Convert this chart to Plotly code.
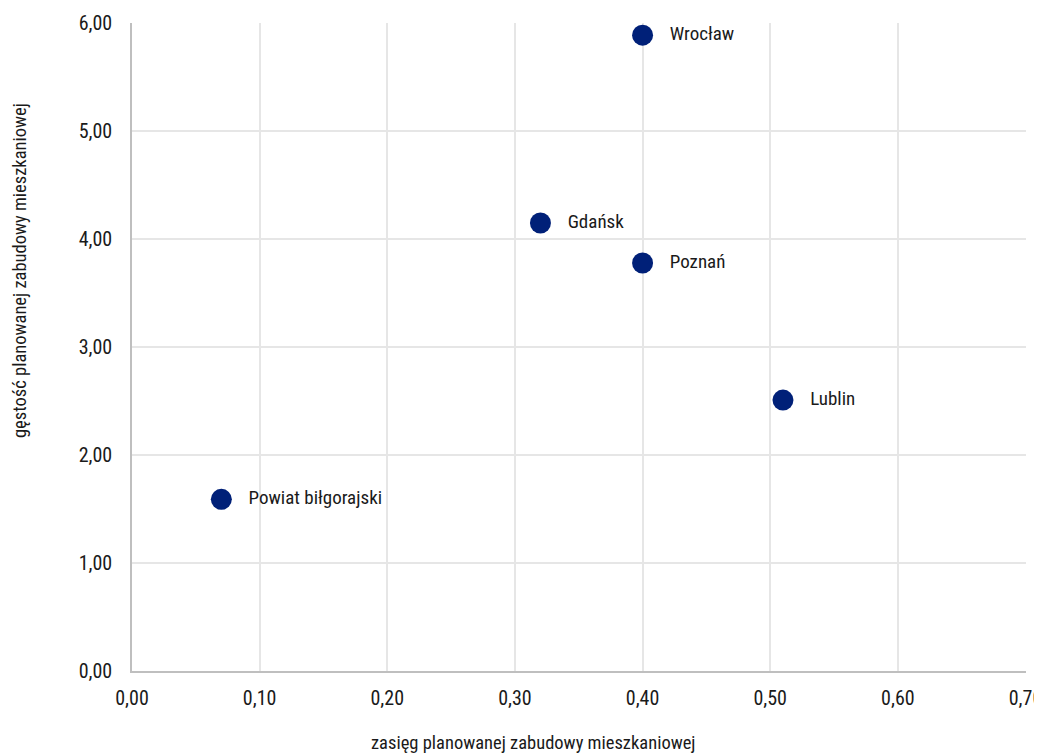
import plotly.graph_objects as go

names = ["Wrocław", "Gdańsk", "Poznań", "Lublin", "Powiat biłgorajski"]
x_vals = [0.40, 0.32, 0.40, 0.51, 0.07]
y_vals = [5.89, 4.15, 3.78, 2.51, 1.59]

x_ticks = [0.0, 0.1, 0.2, 0.3, 0.4, 0.5, 0.6, 0.7]
y_ticks = [0, 1, 2, 3, 4, 5, 6]

x_title = "zasięg planowanej zabudowy mieszkaniowej"
y_title = "gęstość planowanej zabudowy mieszkaniowej"

FONT = "Roboto Condensed, DejaVu Sans Condensed, sans-serif"
TXT = "#1a1a1a"

fig = go.Figure()
fig.add_trace(go.Scatter(
    x=x_vals, y=y_vals, mode="markers+text",
    text=["   " + n for n in names], textposition="middle right",
    marker=dict(size=21, color="#002078"),
    textfont=dict(family=FONT, size=19, color=TXT),
    cliponaxis=False,
    hoverinfo="skip",
))

# page is shown with an 8px body margin; plot area in page pixels: x 132..1026, y 23..671
fig.add_annotation(text=x_title, xref="paper", yref="paper",
                   x=(533 - 132) / 894, y=-(743 - 671) / 648,
                   xanchor="center", yanchor="middle", showarrow=False,
                   font=dict(family=FONT, size=18.5, color=TXT))
fig.add_annotation(text=y_title, xref="paper", yref="paper",
                   x=(20 - 132) / 894, y=(671 - 271) / 648, textangle=-90,
                   xanchor="center", yanchor="middle", showarrow=False,
                   font=dict(family=FONT, size=18.5, color=TXT))

fig.update_layout(
    width=1034, height=748,
    margin=dict(l=124, r=16, t=15, b=85),
    paper_bgcolor="white", plot_bgcolor="white",
    separators=", ",
    showlegend=False,
    font=dict(family=FONT, size=20, color=TXT),
    xaxis=dict(
        range=[0, 0.7004], tickmode="array", tickvals=x_ticks, tickformat=".2f",
        showgrid=True, gridcolor="#e6e6e6", gridwidth=1.5,
        showline=True, linecolor="#bfbfbf", linewidth=1.5,
        zeroline=False, ticks="", automargin=False,
        ticklabelstandoff=8, ticklabeloverflow="allow",
    ),
    yaxis=dict(
        range=[0, 6.003], tickmode="array", tickvals=y_ticks, tickformat=".2f",
        showgrid=True, gridcolor="#e6e6e6", gridwidth=1.5,
        showline=True, linecolor="#bfbfbf", linewidth=1.5,
        zeroline=False, ticks="", automargin=False,
        ticklabelstandoff=14, ticklabeloverflow="allow",
    ),
)

fig.write_html("out.html")
